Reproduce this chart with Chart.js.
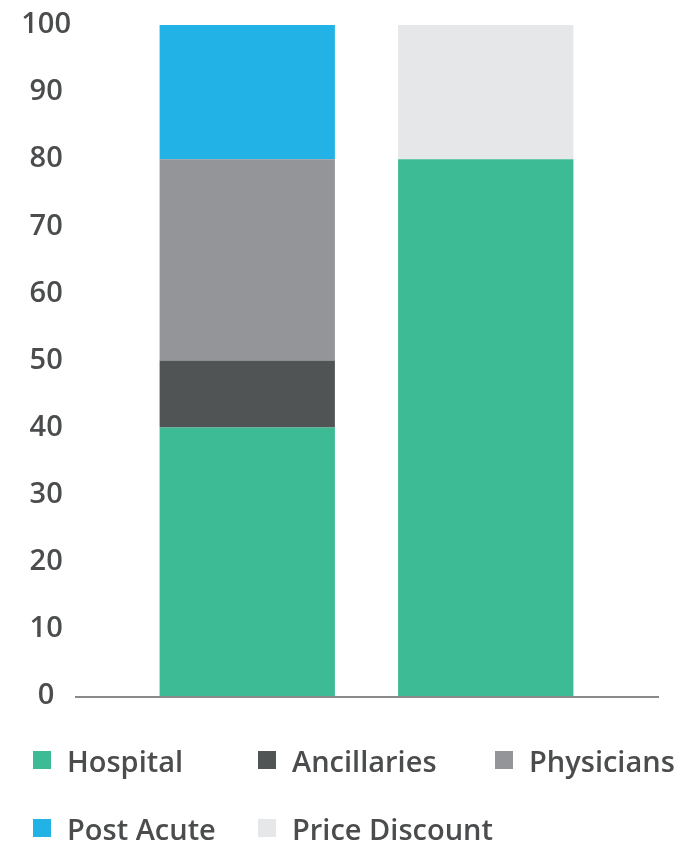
<!DOCTYPE html>
<html>
<head>
<meta charset="utf-8">
<script src="https://cdn.jsdelivr.net/npm/chart.js@4.4.0/dist/chart.umd.min.js"></script>
<style>
    html, body { margin: 0; padding: 0; background: #fff; }
    #wrap { position: relative; width: 677px; height: 841px; }
    #legend { position: absolute; left: 0; top: 0; width: 677px; height: 841px; pointer-events: none;
        font-family: "Open Sans", sans-serif; font-size: 29px; font-weight: 600; color: #4a4c4d; }
    .item { position: absolute; display: flex; align-items: center; white-space: nowrap; }
    .box { width: 18px; height: 18px; margin-right: 16px; }
</style>
</head>
<body>
<div id="wrap">
    <canvas id="costChart" width="677" height="841"></canvas>
    <div id="legend"></div>
</div>
<script>
const categories = ['', ''];
const seriesNames = ['Hospital', 'Ancillaries', 'Physicians', 'Post Acute', 'Price Discount'];
const hospital = [40, 80];
const ancillaries = [10, null];
const physicians = [30, null];
const postAcute = [20, null];
const priceDiscount = [null, 20];
const yTicks = [0, 10, 20, 30, 40, 50, 60, 70, 80, 90, 100];

const colors = ['#3dbb94', '#505455', '#939598', '#22b2e6', '#e6e7e8'];
const seriesValues = [hospital, ancillaries, physicians, postAcute, priceDiscount];
const textColor = '#4a4c4d';

// baseline drawn wider than the plot area, as in the original
const baseline = {
    id: 'baseline',
    afterDatasetsDraw(chart) {
        const ctx = chart.ctx;
        const y = chart.scales.y.getPixelForValue(0);
        ctx.save();
        ctx.strokeStyle = '#8a8a8a';
        ctx.lineWidth = 2;
        ctx.beginPath();
        ctx.moveTo(75, y + 1);
        ctx.lineTo(659, y + 1);
        ctx.stroke();
        ctx.restore();
    }
};

const chart = new Chart(document.getElementById('costChart'), {
    type: 'bar',
    data: {
        labels: categories,
        datasets: seriesNames.map((name, i) => ({
            label: name,
            data: seriesValues[i],
            backgroundColor: colors[i],
            borderWidth: 0,
            categoryPercentage: 1,
            barPercentage: 0.735
        }))
    },
    options: {
        responsive: false,
        animation: false,
        layout: { padding: { top: 25, right: 72, bottom: 145, left: 0 } },
        plugins: {
            legend: { display: false },
            tooltip: { enabled: false }
        },
        scales: {
            x: { stacked: true, display: false },
            y: {
                stacked: true,
                min: 0,
                max: 100,
                afterBuildTicks: s => { s.ticks = yTicks.map(v => ({ value: v })); },
                afterFit: s => {
                    s.width = 128;
                    s.paddingTop = 0;
                    s.paddingBottom = 0;
                },
                grid: { display: false, drawTicks: false },
                border: { display: false },
                ticks: {
                    padding: 57,
                    crossAlign: 'center',
                    color: textColor,
                    font: { family: 'Open Sans', size: 29, weight: '600' }
                }
            }
        }
    },
    plugins: [baseline]
});

// legend laid out on a grid like the source
const legendPos = [[33, 760], [258, 760], [495, 760], [33, 828], [258, 828]];
const legend = document.getElementById('legend');
seriesNames.forEach((name, i) => {
    const item = document.createElement('div');
    item.className = 'item';
    item.style.left = legendPos[i][0] + 'px';
    item.style.top = (legendPos[i][1] - 20) + 'px';
    item.style.height = '40px';
    item.innerHTML = '<span class="box" style="background:' + colors[i] + '"></span>' + name;
    legend.appendChild(item);
});
</script>
</body>
</html>
